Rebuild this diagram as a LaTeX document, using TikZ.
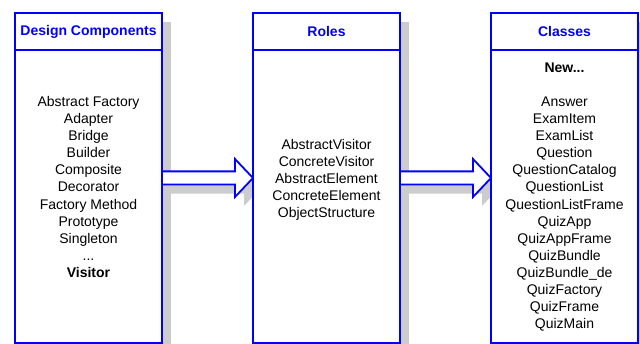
\documentclass[tikz,border=0pt]{standalone}
\usepackage{fontspec}
\setmainfont{Liberation Sans}
\usepackage{tikz}
\usetikzlibrary{shadows}
\definecolor{paneblue}{RGB}{0,0,255}
\definecolor{shadegray}{RGB}{204,204,204}
\tikzset{every shadow/.style={fill=shadegray,opacity=1,shadow xshift=9pt,shadow yshift=-9pt}}
\tikzset{pane/.style={draw=paneblue,line width=1.8pt,fill=white,minimum width=147pt,minimum height=330pt,inner sep=0pt,outer sep=0pt,drop shadow}}
\tikzset{fatarrow/.style={draw=paneblue,line width=1.8pt,fill=white,line join=miter,drop shadow}}
\newcommand{\Listfont}{\fontsize{14}{17.08}\selectfont}

\begin{document}
\begin{tikzpicture}[x=1pt,y=1pt]
\useasboundingbox (0,0) rectangle (640,344);
% \draw[help lines] (0,0) grid[step=20] (640,344);
\node (dc) [pane] at (88.5,166) {};
\draw[fatarrow] ([yshift=6.6pt]dc.east) -- ++(73,0) -- ++(0,12.4) -- ++(18,-19) -- ++(-18,-19) -- ++(0,12.4) -- ([yshift=-6.6pt]dc.east) -- cycle;
\node (ro) [pane] at (326.5,166) {};
\draw[fatarrow] ([yshift=6.6pt]ro.east) -- ++(73,0) -- ++(0,12.4) -- ++(18,-19) -- ++(-18,-19) -- ++(0,12.4) -- ([yshift=-6.6pt]ro.east) -- cycle;
\node (cl) [pane] at (564.5,166) {};
%
\draw[draw=paneblue,line width=1.8pt] ([yshift=-37pt]dc.north west) -- ([yshift=-37pt]dc.north east);
\draw[draw=paneblue,line width=1.8pt] ([yshift=-37pt]ro.north west) -- ([yshift=-37pt]ro.north east);
\draw[draw=paneblue,line width=1.8pt] ([yshift=-37pt]cl.north west) -- ([yshift=-37pt]cl.north east);
%
\node (dch) [font=\Listfont\bfseries,text=paneblue] at ([yshift=-18.5pt]dc.north) {Design Components};
\node (roh) [font=\Listfont\bfseries,text=paneblue] at ([yshift=-18.5pt]ro.north) {Roles};
\node (clh) [font=\Listfont\bfseries,text=paneblue] at ([yshift=-18.5pt]cl.north) {Classes};
%
\node (dcl) [font=\Listfont,align=center,inner sep=0pt] at ([yshift=-9pt]dc.center) {Abstract Factory\\Adapter\\Bridge\\Builder\\Composite\\Decorator\\Factory Method\\Prototype\\Singleton\\...\\\textbf{Visitor}};
\node (rol) [font=\Listfont,align=center,inner sep=0pt] at ([yshift=-2pt]ro.center) {AbstractVisitor\\ConcreteVisitor\\AbstractElement\\ConcreteElement\\ObjectStructure};
\node (cll) [font=\Listfont,align=center,inner sep=0pt] at ([yshift=-19pt]cl.center) {\textbf{New...}\\[17.08pt]Answer\\ExamItem\\ExamList\\Question\\QuestionCatalog\\QuestionList\\QuestionListFrame\\QuizApp\\QuizAppFrame\\QuizBundle\\QuizBundle\_de\\QuizFactory\\QuizFrame\\QuizMain};
\end{tikzpicture}
\end{document}
